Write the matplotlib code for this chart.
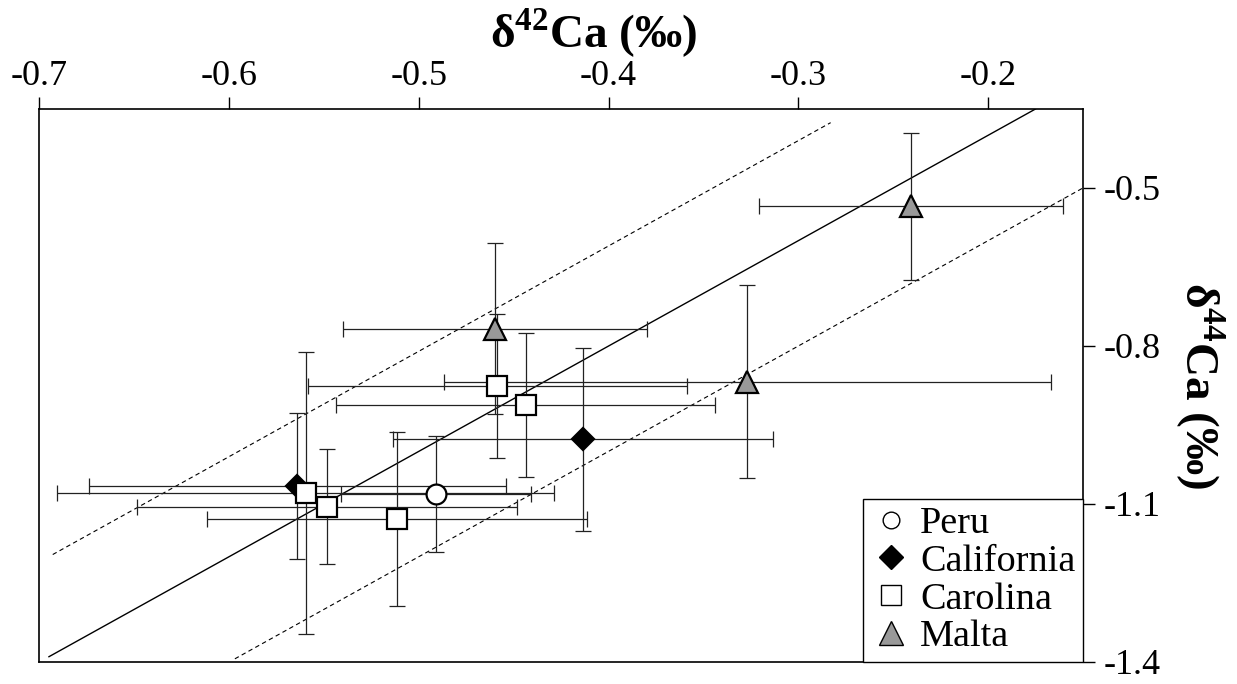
import matplotlib
matplotlib.use("Agg")
import matplotlib.pyplot as plt
from matplotlib.lines import Line2D
import numpy as np

plt.rcParams["font.family"] = ["Liberation Serif", "DejaVu Serif"]
plt.rcParams["mathtext.fontset"] = "custom"
plt.rcParams["mathtext.rm"] = "Liberation Serif:bold"
plt.rcParams["mathtext.bf"] = "Liberation Serif:bold"

# ── Data ──────────────────────────────────────────────────────────────────────
peru_x    = [-0.491]
peru_y    = [-1.081]
peru_xerr = [0.05]
peru_yerr = [0.111]

cal_x    = [-0.564, -0.4135]
cal_y    = [-1.066, -0.977]
cal_xerr = [0.11, 0.10]
cal_yerr = [0.138, 0.174]

car_x    = [-0.5596, -0.5485, -0.5116, -0.4587, -0.4437]
car_y    = [-1.079, -1.1055, -1.1285, -0.876, -0.912]
car_xerr = [0.131, 0.10, 0.10, 0.10, 0.10]
car_yerr = [0.267, 0.109, 0.165, 0.137, 0.137]

mal_x    = [-0.460, -0.3269, -0.2405]
mal_y    = [-0.767, -0.8675, -0.535]
mal_xerr = [0.08, 0.16, 0.08]
mal_yerr = [0.162, 0.183, 0.14]

# mass-dependent line and its envelope: (slope, intercept, x start, x end)
main_line  = (2.0, 0.0, -0.695, -0.175)
upper_line = (2.0, 0.19, -0.693, -0.283)
lower_line = (2.0, -0.20, -0.597, -0.150)

xticks = [-0.7, -0.6, -0.5, -0.4, -0.3, -0.2]
yticks = [-0.5, -0.8, -1.1, -1.4]

# ── Plot ──────────────────────────────────────────────────────────────────────
fig = plt.figure(figsize=(12.37, 6.84), dpi=100)
ax = fig.add_axes([0.0319, 0.0322, 0.8436, 0.8085])

for (m, b, x0, x1), ls, lw in [(main_line, "-", 1.0),
                               (upper_line, (0, (4, 3)), 0.8),
                               (lower_line, (0, (4, 3)), 0.8)]:
    xs = np.array([x0, x1])
    ax.plot(xs, m * xs + b, color="black", linestyle=ls, linewidth=lw, zorder=1)

err_kw = dict(fmt="none", ecolor="#222222", elinewidth=0.9, capsize=6,
              capthick=0.9, zorder=2)
ax.errorbar(peru_x, peru_y, xerr=peru_xerr, yerr=peru_yerr, **err_kw)
ax.errorbar(cal_x, cal_y, xerr=cal_xerr, yerr=cal_yerr, **err_kw)
ax.errorbar(car_x, car_y, xerr=car_xerr, yerr=car_yerr, **err_kw)
ax.errorbar(mal_x, mal_y, xerr=mal_xerr, yerr=mal_yerr, **err_kw)

mk = dict(linestyle="none", markeredgecolor="black", markeredgewidth=1.6, zorder=3)
ax.plot(peru_x, peru_y, marker="o", markersize=14.3, markerfacecolor="white", **mk)
ax.plot(cal_x, cal_y, marker="D", markersize=11.5, markerfacecolor="black", **mk)
ax.plot(car_x, car_y, marker="s", markersize=14, markerfacecolor="white", **mk)
ax.plot(mal_x, mal_y, marker="^", markersize=15.5, markerfacecolor="#999999", **mk)

ax.set_xlim(-0.7, -0.15)
ax.set_ylim(-1.4, -0.35)

ax.xaxis.tick_top()
ax.yaxis.tick_right()
ax.set_xticks(xticks)
ax.set_yticks(yticks)
# minus signs as plain hyphens, like the original
ax.set_xticklabels([f"{t:.1f}" for t in xticks])
ax.set_yticklabels([f"{t:.1f}" for t in yticks])
ax.tick_params(axis="both", direction="out", length=8.5, width=1.0,
               labelsize=26, color="black")
ax.tick_params(axis="x", pad=3)
ax.tick_params(axis="y", pad=6)
for s in ax.spines.values():
    s.set_linewidth(1.2)

fig.text(0.48, 1 - 33 / 684, "δ$^{42}$Ca (‰)", fontsize=34, fontweight="bold",
         ha="center", va="center")
fig.text(1200 / 1237, 1 - 386 / 684, "δ$^{44}$Ca (‰)", fontsize=34,
         fontweight="bold", rotation=270, ha="center", va="center")

handles = [
    Line2D([], [], linestyle="none", marker="o", markersize=12,
           markerfacecolor="white", markeredgecolor="black", markeredgewidth=1.0),
    Line2D([], [], linestyle="none", marker="D", markersize=12,
           markerfacecolor="black", markeredgecolor="black", markeredgewidth=1.0),
    Line2D([], [], linestyle="none", marker="s", markersize=14,
           markerfacecolor="white", markeredgecolor="black", markeredgewidth=1.0),
    Line2D([], [], linestyle="none", marker="^", markersize=17,
           markerfacecolor="#999999", markeredgecolor="black", markeredgewidth=1.0),
]
leg = ax.legend(handles, ["Peru", "California", "Carolina", "Malta"],
                loc="lower right", fontsize=27.5, frameon=True, fancybox=False,
                borderaxespad=0, borderpad=0.2, handlelength=1.1,
                handletextpad=0.2, labelspacing=0.08, framealpha=1)
leg.get_frame().set_edgecolor("black")
leg.get_frame().set_linewidth(1.0)

fig.savefig("out.png", dpi=100)
